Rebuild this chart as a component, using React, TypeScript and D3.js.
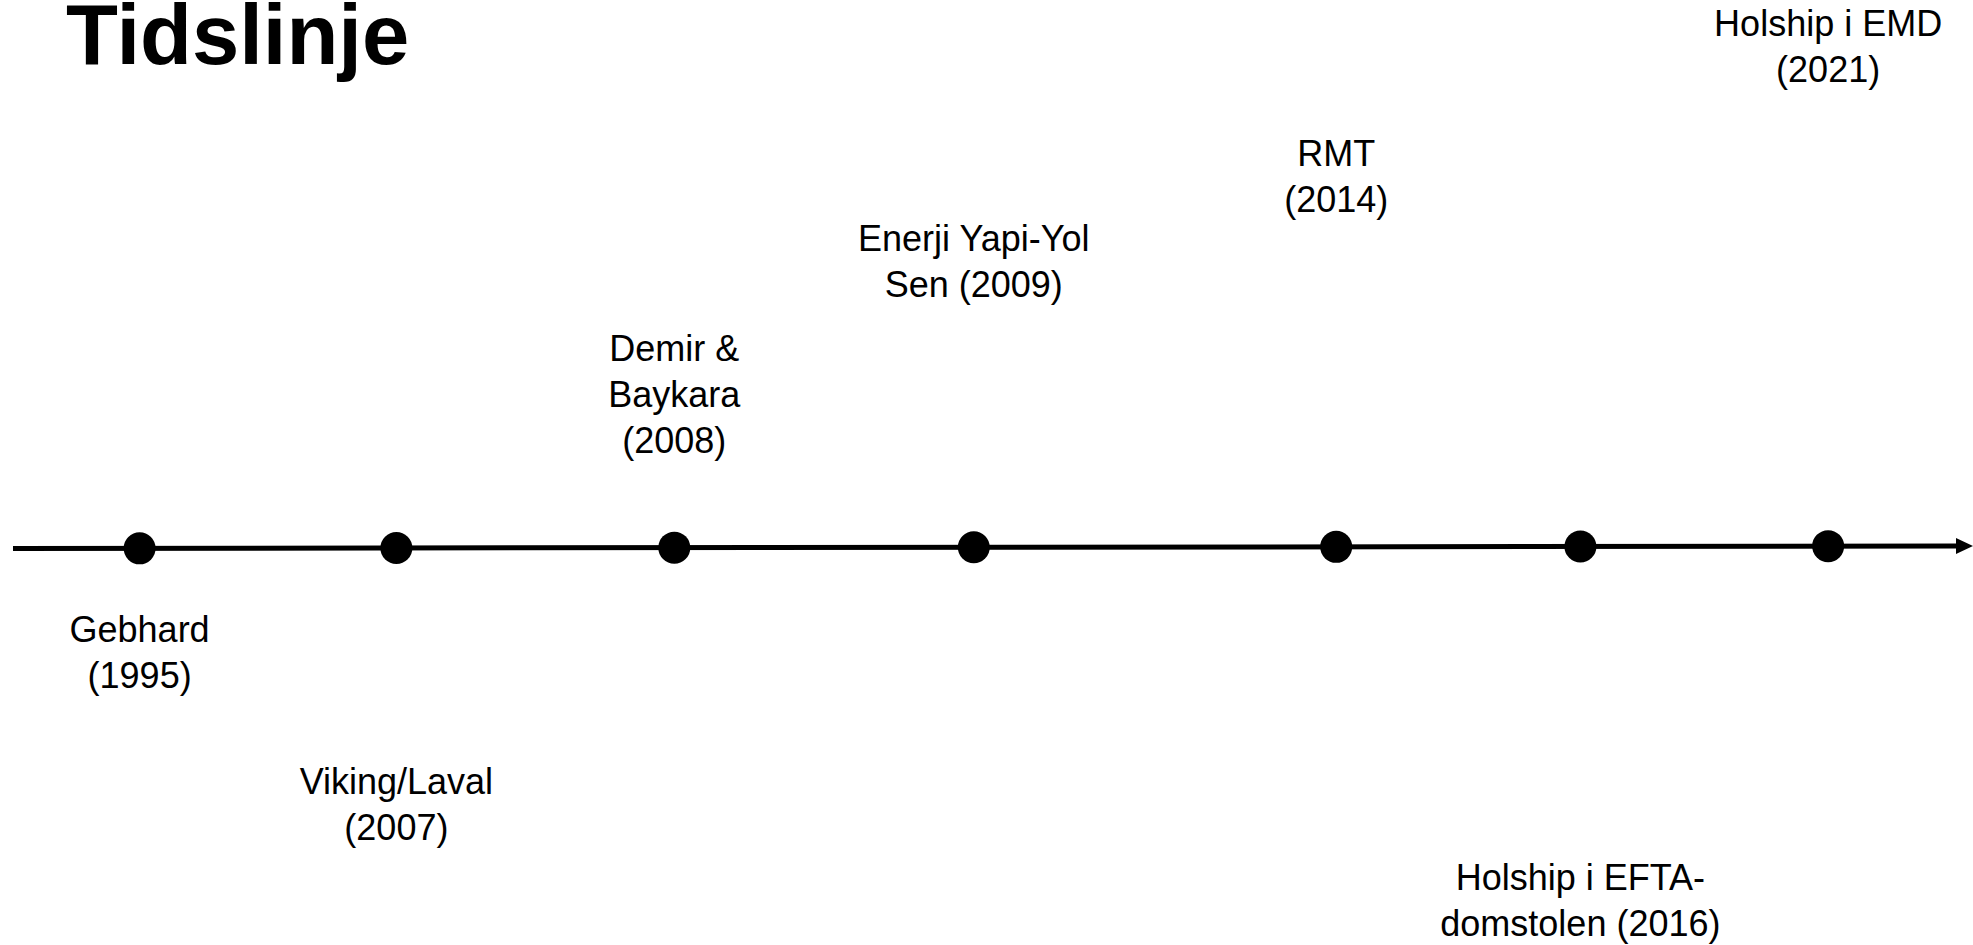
import React, { useRef, useEffect } from 'react';
import * as d3 from 'd3';

// events along the timeline
const eventLines: string[][] = [
  ['Gebhard', '(1995)'],
  ['Viking/Laval', '(2007)'],
  ['Demir &', 'Baykara', '(2008)'],
  ['Enerji Yapi-Yol', 'Sen (2009)'],
  ['RMT', '(2014)'],
  ['Holship i EFTA-', 'domstolen (2016)'],
  ['Holship i EMD', '(2021)'],
];
// where each dot sits along the arrow (0 = left end, 1 = arrow tip)
const eventPos = [0.0646, 0.1956, 0.3374, 0.4902, 0.6751, 0.7997, 0.9261];
// baseline of first label line for each event
const labelTop = [642, 794, 361, 251, 166, 890, 36];

const W = 1973;
const H = 945;

const App = () => {
  const svgRef = useRef<SVGSVGElement>(null);

  useEffect(() => {
    const svg = d3.select(svgRef.current);
    svg.selectAll('*').remove();

    const font = '"Liberation Sans", Arial, sans-serif';
    const x0 = 13;
    const x1 = W;
    const y0 = 548.5;
    const y1 = 546;

    const x = d3.scaleLinear().domain([0, 1]).range([x0, x1]);
    const y = d3.scaleLinear().domain([0, 1]).range([y0, y1]);

    svg.append('text')
      .attr('x', 66)
      .attr('y', 64)
      .attr('font-family', font)
      .attr('font-weight', 'bold')
      .attr('font-size', 85)
      .attr('fill', '#000')
      .text('Tidslinje');

    // axis line
    svg.append('line')
      .attr('x1', x(0))
      .attr('y1', y(0))
      .attr('x2', x(1) - 14)
      .attr('y2', y(1))
      .attr('stroke', '#000')
      .attr('stroke-width', 5);

    // arrowhead
    const tipX = x(1);
    const tipY = y(1);
    svg.append('path')
      .attr('d', `M${tipX},${tipY} L${tipX - 17},${tipY - 8} L${tipX - 17},${tipY + 8} Z`)
      .attr('fill', '#000');

    svg.selectAll('circle.dot')
      .data(eventPos)
      .enter().append('circle')
      .attr('class', 'dot')
      .attr('cx', d => x(d))
      .attr('cy', d => y(d))
      .attr('r', 16)
      .attr('fill', '#000');

    const lineH = 46;
    const labels = svg.selectAll('text.label')
      .data(eventLines)
      .enter().append('text')
      .attr('class', 'label')
      .attr('font-family', font)
      .attr('font-size', 36)
      .attr('text-anchor', 'middle')
      .attr('fill', '#000');

    labels.each(function (lines, i) {
      const t = d3.select(this);
      lines.forEach((ln, j) => {
        t.append('tspan')
          .attr('x', x(eventPos[i]))
          .attr('y', labelTop[i] + j * lineH)
          .text(ln);
      });
    });
  }, []);

  return (
    <svg
      ref={svgRef}
      width={W}
      height={H}
      style={{ position: 'absolute', left: 0, top: 0, background: '#fff', display: 'block' }}
    ></svg>
  );
};

export default App;
